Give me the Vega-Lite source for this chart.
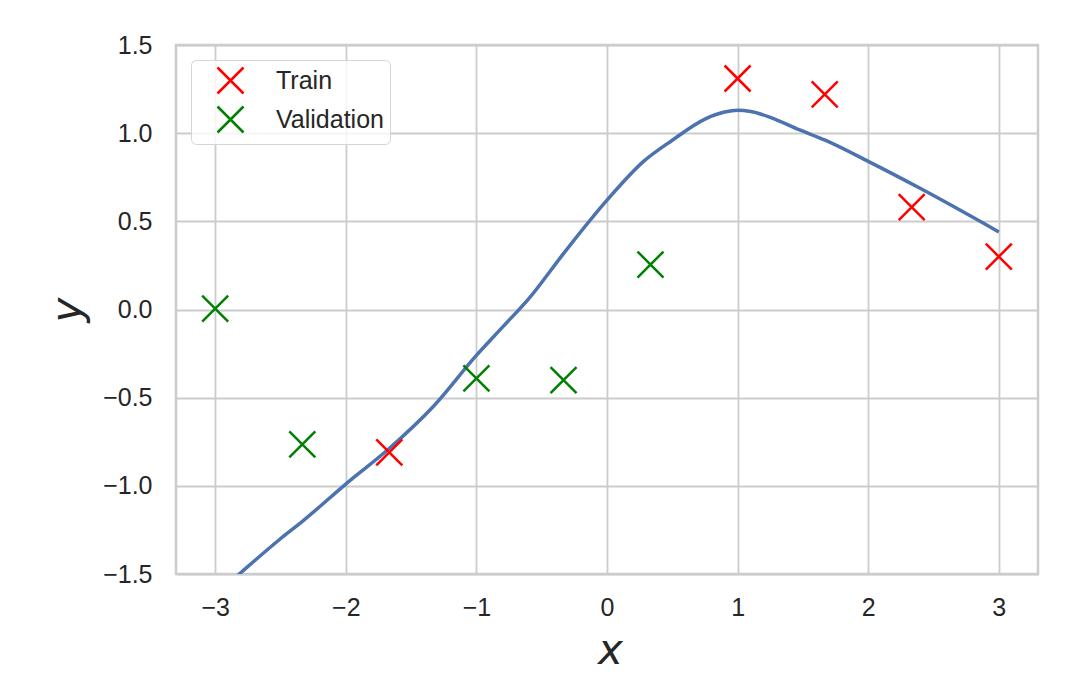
{
  "$schema": "https://vega.github.io/schema/vega-lite/v6.json",
  "width": 862,
  "height": 529,
  "autosize": "none",
  "padding": {"left": 176, "top": 45, "right": 43, "bottom": 126},
  "background": "white",
  "datasets": {
    "points": [
      {"x": -1.667, "y": -0.81, "set": "Train"},
      {"x": 1.0, "y": 1.31, "set": "Train"},
      {"x": 1.667, "y": 1.22, "set": "Train"},
      {"x": 2.333, "y": 0.58, "set": "Train"},
      {"x": 3.0, "y": 0.30, "set": "Train"},
      {"x": -3.0, "y": 0.005, "set": "Validation"},
      {"x": -2.333, "y": -0.765, "set": "Validation"},
      {"x": -1.0, "y": -0.39, "set": "Validation"},
      {"x": -0.333, "y": -0.40, "set": "Validation"},
      {"x": 0.333, "y": 0.255, "set": "Validation"}
    ],
    "curve": [
      {"x": -3.0, "y": -1.62},
      {"x": -2.8, "y": -1.49},
      {"x": -2.5, "y": -1.30},
      {"x": -2.33, "y": -1.20},
      {"x": -2.0, "y": -0.99},
      {"x": -1.67, "y": -0.79},
      {"x": -1.33, "y": -0.55},
      {"x": -1.0, "y": -0.26},
      {"x": -0.8, "y": -0.10},
      {"x": -0.6, "y": 0.06},
      {"x": -0.33, "y": 0.32},
      {"x": 0.0, "y": 0.62},
      {"x": 0.28, "y": 0.84},
      {"x": 0.5, "y": 0.96},
      {"x": 0.75, "y": 1.08},
      {"x": 0.9, "y": 1.12},
      {"x": 1.0, "y": 1.13},
      {"x": 1.1, "y": 1.123},
      {"x": 1.25, "y": 1.09},
      {"x": 1.47, "y": 1.02},
      {"x": 1.67, "y": 0.96},
      {"x": 2.0, "y": 0.84},
      {"x": 2.39, "y": 0.69},
      {"x": 3.0, "y": 0.44}
    ]
  },
  "encoding": {
    "x": {
      "field": "x", "type": "quantitative",
      "scale": {"domain": [-3.3, 3.3], "nice": false, "zero": false},
      "axis": {
        "values": [-3, -2, -1, 0, 1, 2, 3], "format": "d",
        "title": "x", "titleX": 434, "titleY": 89, "titleBaseline": "alphabetic",
        "labelPadding": 21
      }
    },
    "y": {
      "field": "y", "type": "quantitative",
      "scale": {"domain": [-1.5, 1.5], "nice": false, "zero": false},
      "axis": {
        "values": [-1.5, -1.0, -0.5, 0, 0.5, 1.0, 1.5], "format": ".1f",
        "title": "y", "titleAngle": -90, "titleX": -96, "titleY": 264.5,
        "titleBaseline": "alphabetic", "titleAlign": "center",
        "labelPadding": 24
      }
    }
  },
  "layer": [
    {
      "data": {"name": "curve"},
      "mark": {"type": "line", "color": "#4c72b0", "strokeWidth": 3.5, "clip": true, "interpolate": "monotone"}
    },
    {
      "data": {"name": "points"},
      "mark": {
        "type": "point", "shape": "M-1,-1L1,1M-1,1L1,-1", "filled": false,
        "size": 676, "strokeWidth": 2.5, "opacity": 1
      },
      "encoding": {
        "color": {
          "field": "set", "type": "nominal",
          "scale": {"domain": ["Train", "Validation"], "range": ["#ff0000", "#008000"]},
          "legend": {
            "title": null, "orient": "top-left", "offset": 15, "padding": 6,
            "fillColor": "rgba(255,255,255,0.8)", "strokeColor": "#d5d5d5", "cornerRadius": 5,
            "symbolType": "M-1,-1L1,1M-1,1L1,-1", "symbolSize": 676, "symbolStrokeWidth": 2.5,
            "symbolOffset": 19, "labelOffset": 31, "rowPadding": 2,
            "labelFont": "Liberation Sans", "labelFontSize": 25, "labelColor": "#262626"
          }
        }
      }
    }
  ],
  "config": {
    "view": {"stroke": "#cccccc", "strokeWidth": 2.5},
    "axis": {
      "domain": false, "ticks": false, "tickSize": 0,
      "gridColor": "#cccccc", "gridWidth": 1.8,
      "labelFont": "Liberation Sans", "labelFontSize": 25, "labelColor": "#262626",
      "titleFont": "DejaVu Sans", "titleFontStyle": "italic", "titleFontSize": 42,
      "titleFontWeight": "normal", "titleColor": "#262626"
    }
  }
}
